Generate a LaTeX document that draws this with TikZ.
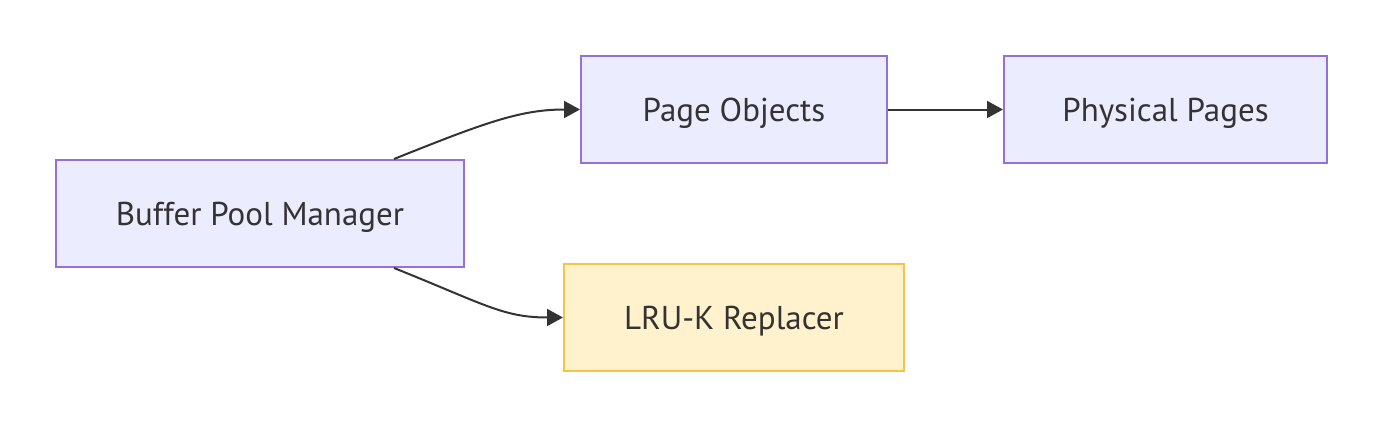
\documentclass[tikz,border=0pt]{standalone}
\usepackage{fontspec}
\setmainfont{PT Sans}
\usetikzlibrary{arrows.meta}
\definecolor{boxfill}{HTML}{ECECFF}
\definecolor{boxline}{HTML}{9370DB}
\definecolor{warnfill}{HTML}{FFF2CC}
\definecolor{warnline}{HTML}{F4C542}
\definecolor{ink}{HTML}{333333}
\tikzset{
  box/.style={draw=boxline,fill=boxfill,line width=1pt,text=ink,font=\fontsize{16.5}{19}\selectfont,minimum height=53.5pt,inner sep=0pt,text height=13pt,text depth=1.5pt},
  warnbox/.style={box,draw=warnline,fill=warnfill},
  link/.style={draw=ink,line width=1pt,-{Triangle[length=8pt,width=8.5pt]}}
}
\begin{document}
\begin{tikzpicture}[x=0.5pt,y=-0.5pt]
\useasboundingbox (0,0) rectangle (1383,428);
\node[box,minimum width=204pt] (bpm) at (260,213.5) {Buffer Pool Manager};
\node[box,minimum width=153pt] (pageobj) at (734,109.5) {Page Objects};
\node[box,minimum width=161.5pt] (physpage) at (1165.5,109.5) {Physical Pages};
\node[warnbox,minimum width=170pt] (lruk) at (734,317.5) {LRU-K Replacer};
\draw[link] ([xshift=-35.5pt]bpm.north east) .. controls +(90,-36) and +(-60,0) .. (pageobj.west);
\draw[link] (pageobj.east) -- (physpage.west);
\draw[link] ([xshift=-35.5pt]bpm.south east) .. controls +(90,36) and +(-60,0) .. (lruk.west);
\end{tikzpicture}
\end{document}
